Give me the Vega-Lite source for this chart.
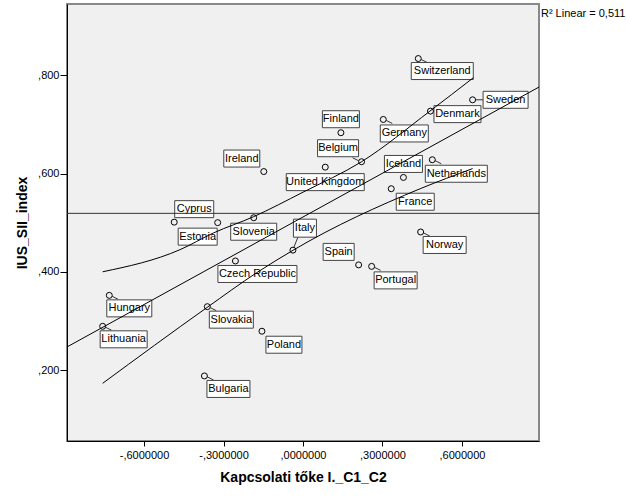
{
  "$schema": "https://vega.github.io/schema/vega-lite/v6.json",
  "autosize": "none",
  "width": 472,
  "height": 437,
  "padding": {"left": 67, "top": 4, "right": 87, "bottom": 60},
  "background": "white",
  "config": {
    "font": "Liberation Sans",
    "view": {"fill": "#F0F0F0", "stroke": "#888888", "strokeWidth": 2},
    "axis": {"grid": false, "domainColor": "black", "tickColor": "black", "labelColor": "black", "titleColor": "black", "labelFont": "Liberation Sans", "titleFont": "Liberation Sans", "labelFontSize": 11, "titleFontSize": 14, "titleFontWeight": "bold"}
  },
  "datasets": {
    "pts": [
      {"country": "Ireland", "kapcsolati": -0.148, "ius": 0.604},
      {"country": "Cyprus", "kapcsolati": -0.486, "ius": 0.501},
      {"country": "Estonia", "kapcsolati": -0.322, "ius": 0.500},
      {"country": "Slovenia", "kapcsolati": -0.186, "ius": 0.510},
      {"country": "Italy", "kapcsolati": -0.038, "ius": 0.444},
      {"country": "Czech Republic", "kapcsolati": -0.255, "ius": 0.422},
      {"country": "Hungary", "kapcsolati": -0.731, "ius": 0.352},
      {"country": "Lithuania", "kapcsolati": -0.756, "ius": 0.289},
      {"country": "Slovakia", "kapcsolati": -0.361, "ius": 0.329},
      {"country": "Poland", "kapcsolati": -0.155, "ius": 0.279},
      {"country": "Bulgaria", "kapcsolati": -0.372, "ius": 0.188},
      {"country": "Spain", "kapcsolati": 0.210, "ius": 0.414},
      {"country": "Portugal", "kapcsolati": 0.259, "ius": 0.411},
      {"country": "Switzerland", "kapcsolati": 0.435, "ius": 0.834},
      {"country": "Sweden", "kapcsolati": 0.640, "ius": 0.750},
      {"country": "Denmark", "kapcsolati": 0.481, "ius": 0.727},
      {"country": "Finland", "kapcsolati": 0.143, "ius": 0.683},
      {"country": "Germany", "kapcsolati": 0.303, "ius": 0.710},
      {"country": "Belgium", "kapcsolati": 0.221, "ius": 0.624},
      {"country": "United Kingdom", "kapcsolati": 0.084, "ius": 0.613},
      {"country": "Iceland", "kapcsolati": 0.379, "ius": 0.592},
      {"country": "Netherlands", "kapcsolati": 0.488, "ius": 0.628},
      {"country": "France", "kapcsolati": 0.333, "ius": 0.569},
      {"country": "Norway", "kapcsolati": 0.444, "ius": 0.481}
    ],
    "fit": [
      {"line": "fit", "kapcsolati": -0.8906, "ius": 0.247},
      {"line": "fit", "kapcsolati": 0.8906, "ius": 0.776}
    ],
    "ci": [
      {"band": "upper", "kapcsolati": -0.756, "ius": 0.400},
      {"band": "upper", "kapcsolati": -0.464, "ius": 0.445},
      {"band": "upper", "kapcsolati": -0.338, "ius": 0.479},
      {"band": "upper", "kapcsolati": -0.187, "ius": 0.512},
      {"band": "upper", "kapcsolati": 0.0, "ius": 0.562},
      {"band": "upper", "kapcsolati": 0.221, "ius": 0.624},
      {"band": "upper", "kapcsolati": 0.479, "ius": 0.727},
      {"band": "upper", "kapcsolati": 0.643, "ius": 0.795},
      {"band": "lower", "kapcsolati": -0.756, "ius": 0.173},
      {"band": "lower", "kapcsolati": -0.363, "ius": 0.327},
      {"band": "lower", "kapcsolati": -0.175, "ius": 0.398},
      {"band": "lower", "kapcsolati": -0.037, "ius": 0.444},
      {"band": "lower", "kapcsolati": 0.442, "ius": 0.569},
      {"band": "lower", "kapcsolati": 0.640, "ius": 0.610}
    ],
    "note": [{"text": "R² Linear = 0,511", "kapcsolati": 0.898, "ius": 0.925}]
  },
  "data": {"name": "pts"},
  "encoding": {
    "x": {"field": "kapcsolati", "type": "quantitative", "title": "Kapcsolati tőke I._C1_C2",
      "scale": {"domain": [-0.8906, 0.8906], "nice": false, "zero": false},
      "axis": {"values": [-0.6, -0.3, 0, 0.3, 0.6], "labelExpr": "replace(replace(format(datum.value, '.7f'), '0.', ','), '\u2212', '-')", "tickSize": 5, "labelPadding": 3, "titlePadding": 10, "domainColor": "black"}},
    "y": {"field": "ius", "type": "quantitative", "title": "IUS_SII_index",
      "scale": {"domain": [0.0556, 0.945], "nice": false, "zero": false},
      "axis": {"values": [0.2, 0.4, 0.6, 0.8], "labelExpr": "replace(format(datum.value, '.3f'), '0.', ',')", "tickSize": 7, "labelPadding": 1, "titlePadding": 8}}
  },
  "layer": [
    {"transform": [{"filter": "indexof(['Switzerland','Netherlands','Norway','Portugal','Bulgaria','Slovakia','Germany','Hungary','Lithuania'], datum.country) >= 0"}],
     "mark": {"type": "rule", "color": "#333333", "strokeWidth": 1, "xOffset": 3, "yOffset": 1, "x2Offset": 9, "y2Offset": 4},
     "encoding": {"x2": {"field": "kapcsolati"}, "y2": {"field": "ius"}}},
    {"transform": [{"filter": "datum.country === 'Sweden'"}],
     "mark": {"type": "rule", "color": "#333333", "strokeWidth": 1, "xOffset": 3, "x2Offset": 11},
     "encoding": {"x2": {"field": "kapcsolati"}, "y2": {"field": "ius"}}},
    {"transform": [{"filter": "datum.country === 'Italy'"}],
     "mark": {"type": "rule", "color": "#333333", "strokeWidth": 1, "xOffset": 1, "yOffset": -3, "x2Offset": 5, "y2Offset": -13},
     "encoding": {"x2": {"field": "kapcsolati"}, "y2": {"field": "ius"}}},
    {"transform": [{"filter": "datum.country === 'Belgium'"}],
     "mark": {"type": "rule", "color": "#333333", "strokeWidth": 1, "xOffset": -3, "yOffset": -1, "x2Offset": -9, "y2Offset": -4},
     "encoding": {"x2": {"field": "kapcsolati"}, "y2": {"field": "ius"}}},

    {"transform": [{"filter": "datum.country === 'Ireland'"}], "layer": [
      {"mark": {"type": "rect", "fill": "white", "stroke": "#444444", "strokeWidth": 1, "width": 36, "height": 17, "xOffset": -22, "yOffset": -13}},
      {"mark": {"type": "text", "fontSize": 11, "color": "black", "align": "center", "baseline": "middle", "dx": -22, "dy": -13}, "encoding": {"text": {"field": "country"}}}]},
    {"transform": [{"filter": "datum.country === 'Cyprus'"}], "layer": [
      {"mark": {"type": "rect", "fill": "white", "stroke": "#444444", "strokeWidth": 1, "width": 39, "height": 17, "xOffset": 20, "yOffset": -13}},
      {"mark": {"type": "text", "fontSize": 11, "color": "black", "align": "center", "baseline": "middle", "dx": 20, "dy": -13}, "encoding": {"text": {"field": "country"}}}]},
    {"transform": [{"filter": "datum.country === 'Estonia'"}], "layer": [
      {"mark": {"type": "rect", "fill": "white", "stroke": "#444444", "strokeWidth": 1, "width": 39, "height": 17, "xOffset": -20, "yOffset": 14}},
      {"mark": {"type": "text", "fontSize": 11, "color": "black", "align": "center", "baseline": "middle", "dx": -20, "dy": 14}, "encoding": {"text": {"field": "country"}}}]},
    {"transform": [{"filter": "datum.country === 'Slovenia'"}], "layer": [
      {"mark": {"type": "rect", "fill": "white", "stroke": "#444444", "strokeWidth": 1, "width": 46, "height": 17, "xOffset": 0, "yOffset": 14}},
      {"mark": {"type": "text", "fontSize": 11, "color": "black", "align": "center", "baseline": "middle", "dx": 0, "dy": 14}, "encoding": {"text": {"field": "country"}}}]},
    {"transform": [{"filter": "datum.country === 'Italy'"}], "layer": [
      {"mark": {"type": "rect", "fill": "white", "stroke": "#444444", "strokeWidth": 1, "width": 23, "height": 18, "xOffset": 12, "yOffset": -22}},
      {"mark": {"type": "text", "fontSize": 11, "color": "black", "align": "center", "baseline": "middle", "dx": 12, "dy": -22}, "encoding": {"text": {"field": "country"}}}]},
    {"transform": [{"filter": "datum.country === 'Czech Republic'"}], "layer": [
      {"mark": {"type": "rect", "fill": "white", "stroke": "#444444", "strokeWidth": 1, "width": 79, "height": 17, "xOffset": 22, "yOffset": 13}},
      {"mark": {"type": "text", "fontSize": 11, "color": "black", "align": "center", "baseline": "middle", "dx": 22, "dy": 13}, "encoding": {"text": {"field": "country"}}}]},
    {"transform": [{"filter": "datum.country === 'Hungary'"}], "layer": [
      {"mark": {"type": "rect", "fill": "white", "stroke": "#444444", "strokeWidth": 1, "width": 45, "height": 17, "xOffset": 20, "yOffset": 13}},
      {"mark": {"type": "text", "fontSize": 11, "color": "black", "align": "center", "baseline": "middle", "dx": 20, "dy": 13}, "encoding": {"text": {"field": "country"}}}]},
    {"transform": [{"filter": "datum.country === 'Lithuania'"}], "layer": [
      {"mark": {"type": "rect", "fill": "white", "stroke": "#444444", "strokeWidth": 1, "width": 47, "height": 17, "xOffset": 21, "yOffset": 13}},
      {"mark": {"type": "text", "fontSize": 11, "color": "black", "align": "center", "baseline": "middle", "dx": 21, "dy": 13}, "encoding": {"text": {"field": "country"}}}]},
    {"transform": [{"filter": "datum.country === 'Slovakia'"}], "layer": [
      {"mark": {"type": "rect", "fill": "white", "stroke": "#444444", "strokeWidth": 1, "width": 44, "height": 17, "xOffset": 24, "yOffset": 13}},
      {"mark": {"type": "text", "fontSize": 11, "color": "black", "align": "center", "baseline": "middle", "dx": 24, "dy": 13}, "encoding": {"text": {"field": "country"}}}]},
    {"transform": [{"filter": "datum.country === 'Poland'"}], "layer": [
      {"mark": {"type": "rect", "fill": "white", "stroke": "#444444", "strokeWidth": 1, "width": 36, "height": 17, "xOffset": 22, "yOffset": 13.5}},
      {"mark": {"type": "text", "fontSize": 11, "color": "black", "align": "center", "baseline": "middle", "dx": 22, "dy": 13.5}, "encoding": {"text": {"field": "country"}}}]},
    {"transform": [{"filter": "datum.country === 'Bulgaria'"}], "layer": [
      {"mark": {"type": "rect", "fill": "white", "stroke": "#444444", "strokeWidth": 1, "width": 43, "height": 17, "xOffset": 24, "yOffset": 13}},
      {"mark": {"type": "text", "fontSize": 11, "color": "black", "align": "center", "baseline": "middle", "dx": 24, "dy": 13}, "encoding": {"text": {"field": "country"}}}]},
    {"transform": [{"filter": "datum.country === 'Spain'"}], "layer": [
      {"mark": {"type": "rect", "fill": "white", "stroke": "#444444", "strokeWidth": 1, "width": 31, "height": 17, "xOffset": -20, "yOffset": -13}},
      {"mark": {"type": "text", "fontSize": 11, "color": "black", "align": "center", "baseline": "middle", "dx": -20, "dy": -13}, "encoding": {"text": {"field": "country"}}}]},
    {"transform": [{"filter": "datum.country === 'Portugal'"}], "layer": [
      {"mark": {"type": "rect", "fill": "white", "stroke": "#444444", "strokeWidth": 1, "width": 43, "height": 17, "xOffset": 24, "yOffset": 14}},
      {"mark": {"type": "text", "fontSize": 11, "color": "black", "align": "center", "baseline": "middle", "dx": 24, "dy": 14}, "encoding": {"text": {"field": "country"}}}]},
    {"transform": [{"filter": "datum.country === 'Norway'"}], "layer": [
      {"mark": {"type": "rect", "fill": "white", "stroke": "#444444", "strokeWidth": 1, "width": 43, "height": 17, "xOffset": 24, "yOffset": 13}},
      {"mark": {"type": "text", "fontSize": 11, "color": "black", "align": "center", "baseline": "middle", "dx": 24, "dy": 13}, "encoding": {"text": {"field": "country"}}}]},
    {"transform": [{"filter": "datum.country === 'Switzerland'"}], "layer": [
      {"mark": {"type": "rect", "fill": "white", "stroke": "#444444", "strokeWidth": 1, "width": 62, "height": 17, "xOffset": 24, "yOffset": 12.5}},
      {"mark": {"type": "text", "fontSize": 11, "color": "black", "align": "center", "baseline": "middle", "dx": 24, "dy": 12.5}, "encoding": {"text": {"field": "country"}}}]},
    {"transform": [{"filter": "datum.country === 'Sweden'"}], "layer": [
      {"mark": {"type": "rect", "fill": "white", "stroke": "#444444", "strokeWidth": 1, "width": 45, "height": 17, "xOffset": 33, "yOffset": 0}},
      {"mark": {"type": "text", "fontSize": 11, "color": "black", "align": "center", "baseline": "middle", "dx": 33, "dy": 0}, "encoding": {"text": {"field": "country"}}}]},
    {"transform": [{"filter": "datum.country === 'Denmark'"}], "layer": [
      {"mark": {"type": "rect", "fill": "white", "stroke": "#444444", "strokeWidth": 1, "width": 47, "height": 17, "xOffset": 27, "yOffset": 3}},
      {"mark": {"type": "text", "fontSize": 11, "color": "black", "align": "center", "baseline": "middle", "dx": 27, "dy": 3}, "encoding": {"text": {"field": "country"}}}]},
    {"transform": [{"filter": "datum.country === 'Finland'"}], "layer": [
      {"mark": {"type": "rect", "fill": "white", "stroke": "#444444", "strokeWidth": 1, "width": 37, "height": 17, "xOffset": 0, "yOffset": -13.5}},
      {"mark": {"type": "text", "fontSize": 11, "color": "black", "align": "center", "baseline": "middle", "dx": 0, "dy": -13.5}, "encoding": {"text": {"field": "country"}}}]},
    {"transform": [{"filter": "datum.country === 'Germany'"}], "layer": [
      {"mark": {"type": "rect", "fill": "white", "stroke": "#444444", "strokeWidth": 1, "width": 48, "height": 17, "xOffset": 21, "yOffset": 14}},
      {"mark": {"type": "text", "fontSize": 11, "color": "black", "align": "center", "baseline": "middle", "dx": 21, "dy": 14}, "encoding": {"text": {"field": "country"}}}]},
    {"transform": [{"filter": "datum.country === 'Belgium'"}], "layer": [
      {"mark": {"type": "rect", "fill": "white", "stroke": "#444444", "strokeWidth": 1, "width": 41, "height": 17, "xOffset": -23.5, "yOffset": -13.5}},
      {"mark": {"type": "text", "fontSize": 11, "color": "black", "align": "center", "baseline": "middle", "dx": -23.5, "dy": -13.5}, "encoding": {"text": {"field": "country"}}}]},
    {"transform": [{"filter": "datum.country === 'United Kingdom'"}], "layer": [
      {"mark": {"type": "rect", "fill": "white", "stroke": "#444444", "strokeWidth": 1, "width": 78, "height": 17, "xOffset": 0, "yOffset": 15}},
      {"mark": {"type": "text", "fontSize": 11, "color": "black", "align": "center", "baseline": "middle", "dx": 0, "dy": 15}, "encoding": {"text": {"field": "country"}}}]},
    {"transform": [{"filter": "datum.country === 'Iceland'"}], "layer": [
      {"mark": {"type": "rect", "fill": "white", "stroke": "#444444", "strokeWidth": 1, "width": 38, "height": 17, "xOffset": 0, "yOffset": -13.5}},
      {"mark": {"type": "text", "fontSize": 11, "color": "black", "align": "center", "baseline": "middle", "dx": 0, "dy": -13.5}, "encoding": {"text": {"field": "country"}}}]},
    {"transform": [{"filter": "datum.country === 'Netherlands'"}], "layer": [
      {"mark": {"type": "rect", "fill": "white", "stroke": "#444444", "strokeWidth": 1, "width": 62, "height": 17, "xOffset": 24, "yOffset": 14}},
      {"mark": {"type": "text", "fontSize": 11, "color": "black", "align": "center", "baseline": "middle", "dx": 24, "dy": 14}, "encoding": {"text": {"field": "country"}}}]},
    {"transform": [{"filter": "datum.country === 'France'"}], "layer": [
      {"mark": {"type": "rect", "fill": "white", "stroke": "#444444", "strokeWidth": 1, "width": 38, "height": 17, "xOffset": 24, "yOffset": 13}},
      {"mark": {"type": "text", "fontSize": 11, "color": "black", "align": "center", "baseline": "middle", "dx": 24, "dy": 13}, "encoding": {"text": {"field": "country"}}}]},

    {"mark": {"type": "rule", "color": "#333333", "strokeWidth": 1},
     "encoding": {"x": null, "y": {"aggregate": "mean", "field": "ius", "type": "quantitative"}}},
    {"data": {"name": "fit"}, "mark": {"type": "line", "color": "black", "strokeWidth": 1, "clip": true}},
    {"data": {"name": "ci"}, "mark": {"type": "line", "color": "black", "strokeWidth": 1, "interpolate": "monotone"},
     "encoding": {"detail": {"field": "band"}}},
    {"mark": {"type": "point", "shape": "circle", "filled": false, "stroke": "black", "strokeWidth": 1, "size": 36, "opacity": 1}},
    {"data": {"name": "note"}, "mark": {"type": "text", "align": "left", "baseline": "middle", "fontSize": 11, "color": "black"},
     "encoding": {"text": {"field": "text"}}}
  ]
}
